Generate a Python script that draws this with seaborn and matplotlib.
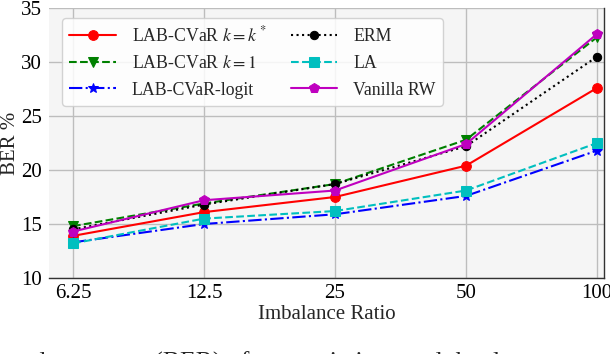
import numpy as np
import pandas as pd
import matplotlib
matplotlib.use("Agg")
import matplotlib.pyplot as plt
import seaborn as sns

# ---- data ----
ratios = ["6.25", "12.5", "25", "50", "100"]
lab_kstar = [13.9, 16.1, 17.5, 20.4, 27.6]
lab_k1 = [14.8, 16.9, 18.7, 22.8, 32.3]
lab_logit = [13.3, 15.0, 15.9, 17.6, 21.8]
erm = [14.5, 16.8, 18.7, 22.2, 30.5]
la = [13.2, 15.5, 16.2, 18.1, 22.5]
vanilla_rw = [14.3, 17.2, 18.1, 22.4, 32.6]

series_names = ["LAB-CVaR $k=k^*$", "LAB-CVaR $k=1$", "LAB-CVaR-logit",
                "ERM", "LA", "Vanilla RW"]
series_vals = [lab_kstar, lab_k1, lab_logit, erm, la, vanilla_rw]
colors = ["#ff0000", "#008000", "#0000ff", "#000000", "#00bfbf", "#bf00bf"]
markers = ["o", "v", "*", "o", "s", "p"]
linestyles = ["-", "--", "-.", ":", "--", "-"]
msizes = [7, 7, 7, 6, 7, 7]

caption = "nced error rate (BER) of our variations and the d"

sns.set_theme(style="whitegrid")
plt.rcParams["font.family"] = ["Liberation Serif", "DejaVu Serif"]
plt.rcParams["mathtext.fontset"] = "stix"

fig = plt.figure(figsize=(6.10, 3.54), dpi=100)
ax = fig.add_axes([49 / 610, 1 - 278 / 354, (604 - 49) / 610, (278 - 8) / 354])
ax.set_facecolor("#f5f5f5")

for name, vals, c, m, ls, ms in zip(series_names, series_vals, colors, markers,
                                    linestyles, msizes):
    df = pd.DataFrame({"ratio": ratios, "ber": vals})
    sns.lineplot(data=df, x="ratio", y="ber", ax=ax, color=c, marker=m,
                 linestyle=ls, linewidth=1.5, markersize=ms,
                 markeredgecolor=c, label=name, sort=False, errorbar=None)

ax.set_xlim(-0.183, 4.053)
ax.set_ylim(10, 35)
ax.set_yticks([10, 15, 20, 25, 30, 35])
ax.grid(True, color="#bdbdbd", linewidth=1.0)
ax.tick_params(axis="both", labelsize=15, colors="#000000")
ax.tick_params(axis="y", length=3, width=0.8, color="#333333", pad=2)
ax.tick_params(axis="x", length=0, pad=4)
ax.set_xlabel("Imbalance Ratio", fontsize=15, labelpad=2)
ax.set_ylabel("BER %", fontsize=15, labelpad=1)

for s in ["left", "top"]:
    ax.spines[s].set_visible(False)
for s in ["right", "bottom"]:
    ax.spines[s].set_visible(True)
    ax.spines[s].set_color("#333333")
    ax.spines[s].set_linewidth(1.0)

leg = ax.legend(loc="upper left", bbox_to_anchor=(0.008, 0.996), ncol=2,
                fontsize=12.8, frameon=True, handlelength=2.6,
                columnspacing=1.4, handletextpad=0.9, labelspacing=0.55,
                borderpad=0.4)
leg.get_frame().set_facecolor("white")
leg.get_frame().set_alpha(0.85)
leg.get_frame().set_edgecolor("#cccccc")

fig.text(-0.005, -0.045, caption, fontsize=18.5, ha="left", va="baseline")

fig.savefig("out.png", dpi=100)
